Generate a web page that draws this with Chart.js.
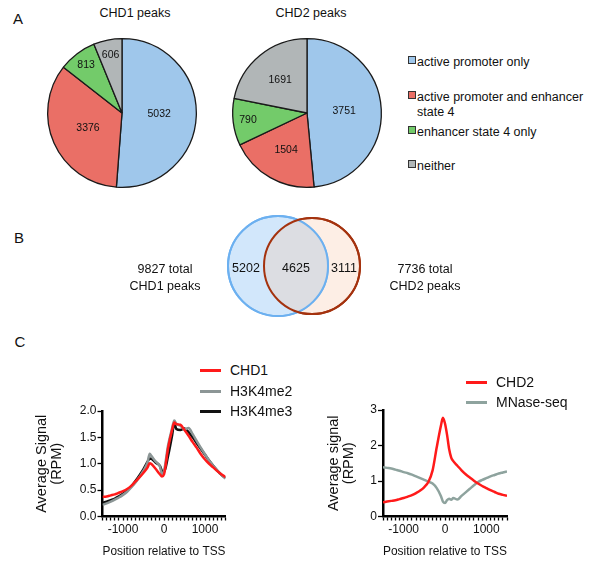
<!DOCTYPE html>
<html>
<head>
<meta charset="utf-8">
<script src="https://cdn.jsdelivr.net/npm/chart.js@4.4.0/dist/chart.umd.min.js"></script>
<style>
  body { margin: 0; background: #fff; font-family: "Liberation Sans", Arial, sans-serif; color: #111; }
  #fig { position: relative; width: 600px; height: 578px; overflow: hidden; }
  .t { position: absolute; white-space: nowrap; transform: translate(-50%, -50%); line-height: 1; }
  .l { position: absolute; white-space: nowrap; transform: translateY(-50%); line-height: 1; }
  .sq { position: absolute; width: 6px; height: 6px; border: 1px solid #333; }
  .ln { position: absolute; height: 3px; width: 21px; }
  canvas { position: absolute; }
</style>
</head>
<body>
<div id="fig">
  <!-- panel letters -->
  <div class="t" style="left:18px;top:18px;font-size:15px">A</div>
  <div class="t" style="left:19px;top:237px;font-size:15px">B</div>
  <div class="t" style="left:20px;top:341px;font-size:15px">C</div>

  <!-- A: pies -->
  <div class="t" style="left:135px;top:13px;font-size:12.5px">CHD1 peaks</div>
  <div class="t" style="left:311px;top:13px;font-size:12.5px">CHD2 peaks</div>
  <canvas id="pie1" width="154" height="154" style="left:45px;top:36px"></canvas>
  <canvas id="pie2" width="154" height="154" style="left:230px;top:36px"></canvas>
  <div id="pieLegend"></div>

  <!-- B: venn -->
  <canvas id="venn" width="200" height="125" style="left:200px;top:205px"></canvas>
  <div class="t" style="left:165px;top:277px;font-size:12.5px;line-height:16.5px;text-align:center">9827 total<br>CHD1 peaks</div>
  <div class="t" style="left:425px;top:277px;font-size:12.5px;line-height:16.5px;text-align:center">7736 total<br>CHD2 peaks</div>

  <!-- C: profiles -->
  <canvas id="prof1" width="300" height="188" style="left:0px;top:390px"></canvas>
  <canvas id="prof2" width="300" height="188" style="left:300px;top:390px"></canvas>
  <div id="profLegend"></div>
</div>

<script>
// pie data
const categories = ['active promoter only', 'active promoter and enhancer state 4', 'enhancer state 4 only', 'neither'];
const chd1Counts = [5032, 3376, 813, 606];
const chd2Counts = [3751, 1504, 790, 1691];
const sliceColors = ['#9fc7eb', '#ea6f66', '#73cb6a', '#b1b6b7'];

// venn data (CHD1 only, shared, CHD2 only)
const vennRegions = [5202, 4625, 3111];
const vennX = [78, 112];
const vennY = [64, 64];
const vennR = [50, 48];

// average profiles around TSS
const leftPos = [-1500, -1400, -1300, -1200, -1100, -1000, -900, -800, -700, -600, -500, -400, -350, -300, -200, -100, -50, 0,
                 100, 200, 250, 300, 400, 500, 600, 700, 800, 900, 1000, 1100, 1200, 1300, 1400, 1500];
const chd1Signal = [0.37, 0.38, 0.40, 0.42, 0.45, 0.48, 0.52, 0.58, 0.66, 0.74, 0.83, 0.93, 1.01, 0.99, 0.90, 0.80, 0.76, 0.80,
                    1.30, 1.65, 1.78, 1.75, 1.74, 1.64, 1.53, 1.41, 1.30, 1.18, 1.08, 1.00, 0.93, 0.86, 0.80, 0.75];
const h3k4me2Signal = [0.22, 0.25, 0.28, 0.32, 0.36, 0.41, 0.47, 0.55, 0.64, 0.75, 0.87, 1.03, 1.19, 1.14, 1.04, 0.95, 0.80, 0.86,
                       1.35, 1.68, 1.82, 1.76, 1.72, 1.65, 1.68, 1.56, 1.43, 1.30, 1.18, 1.06, 0.96, 0.87, 0.79, 0.72];
const h3k4me3Signal = [0.26, 0.28, 0.31, 0.34, 0.38, 0.43, 0.49, 0.57, 0.67, 0.78, 0.90, 1.04, 1.10, 1.09, 1.02, 0.96, 0.86, 0.84,
                       1.15, 1.55, 1.78, 1.66, 1.64, 1.67, 1.60, 1.50, 1.39, 1.28, 1.17, 1.06, 0.96, 0.87, 0.79, 0.73];

const rightPos = [-1500, -1400, -1300, -1200, -1100, -1000, -900, -800, -700, -600, -500, -400, -300, -200, -100, -50, 0, 50,
                  100, 150, 200, 300, 400, 500, 600, 700, 800, 900, 1000, 1100, 1200, 1300, 1400, 1500];
const chd2Signal = [0.40, 0.42, 0.44, 0.46, 0.49, 0.52, 0.56, 0.60, 0.66, 0.73, 0.83, 0.98, 1.30, 1.95, 2.55, 2.78, 2.62, 2.30,
                    1.90, 1.66, 1.56, 1.43, 1.30, 1.19, 1.10, 1.01, 0.93, 0.86, 0.80, 0.74, 0.69, 0.64, 0.61, 0.58];
const mnaseSignal = [1.39, 1.37, 1.35, 1.32, 1.29, 1.25, 1.22, 1.18, 1.13, 1.08, 1.03, 0.98, 0.93, 0.80, 0.58, 0.42, 0.38, 0.46,
                     0.50, 0.47, 0.52, 0.48, 0.58, 0.68, 0.78, 0.88, 0.97, 1.03, 1.08, 1.13, 1.17, 1.21, 1.24, 1.27];

const FONT = '"Liberation Sans", Arial, sans-serif';
Chart.defaults.font.family = FONT;
Chart.defaults.color = '#111';

// --- pie charts ---
const sliceLabels = {
    id: 'sliceLabels',
    afterDatasetsDraw(chart) {
        const ctx = chart.ctx;
        const values = chart.data.datasets[0].data;
        const total = values.reduce((a, b) => a + b, 0);
        ctx.save();
        ctx.font = '10.5px ' + FONT;
        ctx.fillStyle = '#111';
        ctx.textAlign = 'center';
        ctx.textBaseline = 'middle';
        chart.getDatasetMeta(0).data.forEach((arc, i) => {
            const frac = values[i] / total;
            const k = frac < 0.12 ? 0.8 : (frac < 0.3 ? 0.57 : 0.5);
            const mid = (arc.startAngle + arc.endAngle) / 2;
            const r = arc.outerRadius * k;
            ctx.fillText(values[i], arc.x + Math.cos(mid) * r, arc.y + Math.sin(mid) * r);
        });
        ctx.restore();
    }
};

function makePie(id, counts) {
    return new Chart(document.getElementById(id), {
        type: 'pie',
        data: {
            labels: categories,
            datasets: [{ data: counts, backgroundColor: sliceColors, borderColor: '#1a1a1a', borderWidth: 1.3 }]
        },
        options: {
            responsive: false,
            animation: false,
            events: [],
            layout: { padding: 2 },
            plugins: { legend: { display: false }, tooltip: { enabled: false } }
        },
        plugins: [sliceLabels]
    });
}
makePie('pie1', chd1Counts);
makePie('pie2', chd2Counts);

// pie legend (html)
const pieLegend = document.getElementById('pieLegend');
const legendRows = [62, 97, 132, 166];
categories.forEach((c, i) => {
    const sq = document.createElement('div');
    sq.className = 'sq';
    sq.style.left = '408px';
    sq.style.top = (legendRows[i] - 6) + 'px';
    sq.style.background = sliceColors[i];
    pieLegend.appendChild(sq);
    const txt = document.createElement('div');
    txt.className = 'l';
    txt.style.left = '417px';
    txt.style.fontSize = '12.5px';
    if (i === 1) {
        txt.style.transform = 'none';
        txt.style.lineHeight = '15px';
        txt.style.top = (legendRows[i] - 7.5) + 'px';
        txt.innerHTML = 'active promoter and enhancer<br>state 4';
    } else {
        txt.style.top = legendRows[i] + 'px';
        txt.textContent = c;
    }
    pieLegend.appendChild(txt);
});

// --- venn ---
const vennOverlap = {
    id: 'vennOverlap',
    afterDatasetsDraw(chart) {
        const ctx = chart.ctx;
        const a = chart.getDatasetMeta(0).data[0];
        const b = chart.getDatasetMeta(1).data[0];
        const ra = a.options.radius, rb = b.options.radius;
        ctx.save();
        ctx.beginPath();
        ctx.arc(a.x, a.y, ra, 0, Math.PI * 2);
        ctx.clip();
        ctx.beginPath();
        ctx.arc(b.x, b.y, rb, 0, Math.PI * 2);
        ctx.fillStyle = '#dcdde2';
        ctx.fill();
        ctx.restore();

        ctx.save();
        ctx.lineWidth = 2;
        ctx.beginPath();
        ctx.arc(a.x, a.y, ra, 0, Math.PI * 2);
        ctx.strokeStyle = '#6cb0f0';
        ctx.stroke();
        ctx.beginPath();
        ctx.arc(b.x, b.y, rb, 0, Math.PI * 2);
        ctx.strokeStyle = '#a4320e';
        ctx.stroke();

        const xs = [((a.x - ra) + (b.x - rb)) / 2, ((b.x - rb) + (a.x + ra)) / 2, ((a.x + ra) + (b.x + rb)) / 2];
        ctx.font = '12.5px ' + FONT;
        ctx.fillStyle = '#111';
        ctx.textAlign = 'center';
        ctx.textBaseline = 'middle';
        vennRegions.forEach((v, i) => ctx.fillText(v, xs[i], a.y + 3));
        ctx.restore();
    }
};

new Chart(document.getElementById('venn'), {
    type: 'bubble',
    data: {
        datasets: [
            { data: [{ x: vennX[0], y: vennY[0], r: vennR[0] }], backgroundColor: '#d2e7fb', borderColor: '#6cb0f0', borderWidth: 2, clip: false },
            { data: [{ x: vennX[1], y: vennY[1], r: vennR[1] }], backgroundColor: '#fdeee5', borderColor: '#a4320e', borderWidth: 2, clip: false }
        ]
    },
    options: {
        responsive: false,
        animation: false,
        events: [],
        layout: { padding: 0, autoPadding: false },
        scales: {
            x: { type: 'linear', min: 0, max: 200, display: false },
            y: { type: 'linear', min: 0, max: 125, display: false }
        },
        plugins: { legend: { display: false }, tooltip: { enabled: false } }
    },
    plugins: [vennOverlap]
});

// --- profiles ---
function toPoints(xs, ys) {
    return xs.map((x, i) => ({ x: x, y: ys[i] }));
}

function makeProfile(id, sets, yMax, yStep, digits, pad, yWidth, yTitle) {
    return new Chart(document.getElementById(id), {
        type: 'line',
        data: {
            datasets: sets.map(s => ({
                label: s.label,
                data: s.data,
                borderColor: s.color,
                borderWidth: 2.5,
                pointRadius: 0,
                cubicInterpolationMode: 'monotone',
                fill: false
            }))
        },
        options: {
            responsive: false,
            animation: false,
            events: [],
            layout: { padding: pad, autoPadding: false },
            plugins: { legend: { display: false }, tooltip: { enabled: false } },
            scales: {
                x: {
                    type: 'linear',
                    min: -1500,
                    max: 1500,
                    afterFit: (scale) => { scale.height = 42; },
                    border: { color: '#000', width: 2.5 },
                    grid: { drawOnChartArea: false, drawTicks: true, tickLength: 4, tickWidth: 1.3, color: '#000' },
                    ticks: {
                        stepSize: 100,
                        autoSkip: false,
                        maxRotation: 0,
                        padding: 2,
                        font: { size: 12 },
                        color: '#111',
                        callback: (v) => (v % 1000 === 0 ? String(v) : '')
                    },
                    title: { display: true, text: 'Position relative to TSS', font: { size: 12 }, color: '#111', padding: 0 }
                },
                y: {
                    type: 'linear',
                    min: 0,
                    max: yMax,
                    afterFit: (scale) => { scale.width = yWidth; },
                    border: { color: '#000', width: 2.5 },
                    grid: { drawOnChartArea: false, drawTicks: true, tickLength: 5, tickWidth: 1.3, color: '#000' },
                    ticks: {
                        stepSize: yStep,
                        padding: 1,
                        font: { size: 12 },
                        color: '#111',
                        callback: (v) => v.toFixed(digits)
                    },
                    title: { display: true, text: [yTitle, '(RPM)'], font: { size: 14.5, lineHeight: 1.05 }, color: '#111', padding: 0 }
                }
            }
        }
    });
}

const leftSets = [
    { label: 'CHD1', data: toPoints(leftPos, chd1Signal), color: '#ff1a1a' },
    { label: 'H3K4me2', data: toPoints(leftPos, h3k4me2Signal), color: '#8c9696' },
    { label: 'H3K4me3', data: toPoints(leftPos, h3k4me3Signal), color: '#111111' }
];
const rightSets = [
    { label: 'CHD2', data: toPoints(rightPos, chd2Signal), color: '#ff1a1a' },
    { label: 'MNase-seq', data: toPoints(rightPos, mnaseSignal), color: '#8ea39e' }
];

makeProfile('prof1', leftSets, 2, 0.5, 1, { left: 34, top: 21, right: 74.5, bottom: 19.5 }, 68.5, 'Average Signal');
makeProfile('prof2', rightSets, 3, 1, 0, { left: 26, top: 20, right: 93, bottom: 19.5 }, 57, 'Average signal');

// profile legends (html)
const profLegend = document.getElementById('profLegend');
function addLegend(sets, lineX, textX, rows) {
    sets.forEach((s, i) => {
        const ln = document.createElement('div');
        ln.className = 'ln';
        ln.style.left = lineX + 'px';
        ln.style.top = (rows[i] - 1.5) + 'px';
        ln.style.background = s.color;
        profLegend.appendChild(ln);
        const txt = document.createElement('div');
        txt.className = 'l';
        txt.style.left = textX + 'px';
        txt.style.top = rows[i] + 'px';
        txt.style.fontSize = '14px';
        txt.textContent = s.label;
        profLegend.appendChild(txt);
    });
}
addLegend(leftSets, 200, 230, [370, 391, 411]);
addLegend(rightSets, 466, 496, [382, 402]);
</script>
</body>
</html>
